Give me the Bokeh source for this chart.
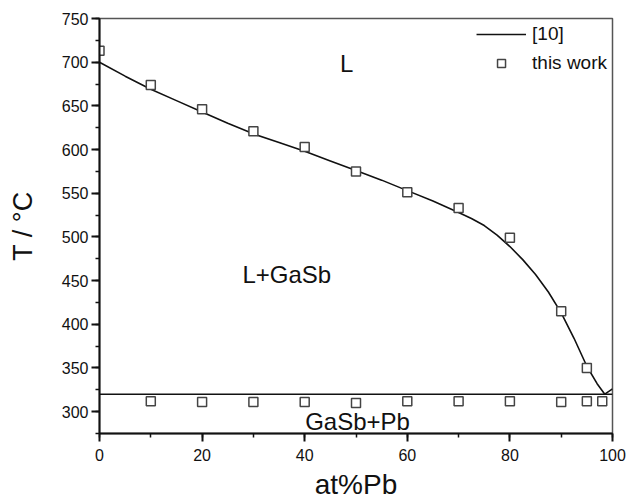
from bokeh.plotting import figure
from bokeh.models import Label, Legend, SingleIntervalTicker, Range1d
from bokeh.embed import file_html
from bokeh.resources import INLINE

# Calculated liquidus from [10] (at%Pb, T / degC)
liq_x = [0, 5, 10, 15, 20, 25, 30, 35, 40, 45, 50, 55, 60, 65, 70, 72.5, 75, 77.5, 80,
         82.5, 85, 87.5, 90, 92.5, 95, 97, 98.5, 100]
liq_t = [700, 684, 669, 656, 643, 630, 618, 608, 598, 587, 576, 565, 553, 541, 528, 521, 513, 502, 489,
         474, 457, 437, 413, 384, 352, 332, 320, 326]

# Invariant line from [10]
inv_x = [0, 100]
inv_t = [320, 320]

# This work: liquidus points
work_liq_x = [0, 10, 20, 30, 40, 50, 60, 70, 80, 90, 95]
work_liq_t = [713, 674, 646, 621, 603, 575, 551, 533, 499, 415, 350]

# This work: invariant points
work_inv_x = [10, 20, 30, 40, 50, 60, 70, 80, 90, 95, 98]
work_inv_t = [312, 311, 311, 311, 310, 312, 312, 312, 311, 312, 312]

FONT = "Liberation Sans"
INK = "#111111"

p = figure(width=626, height=504,
           x_range=Range1d(0, 100), y_range=Range1d(275, 750),
           output_backend="svg", toolbar_location=None,
           min_border_left=99, min_border_right=14,
           min_border_top=18, min_border_bottom=71)

p.grid.visible = False
p.background_fill_color = "white"
p.border_fill_color = "white"
p.outline_line_color = "#555555"
p.outline_line_width = 1.5

p.xaxis.ticker = SingleIntervalTicker(interval=20, num_minor_ticks=2)
p.yaxis.ticker = SingleIntervalTicker(interval=50, num_minor_ticks=2)

for ax in (p.xaxis, p.yaxis):
    ax.axis_line_color = INK
    ax.axis_line_width = 2
    ax.major_tick_line_color = INK
    ax.major_tick_line_width = 2
    ax.minor_tick_line_color = INK
    ax.minor_tick_line_width = 1.5
    ax.major_tick_in = 0
    ax.major_tick_out = 8
    ax.minor_tick_in = 0
    ax.minor_tick_out = 4
    ax.major_label_text_font = FONT
    ax.major_label_text_font_size = "16px"
    ax.major_label_text_color = INK
    ax.axis_label_text_font = FONT
    ax.axis_label_text_font_style = "normal"
    ax.axis_label_text_color = INK

p.xaxis.major_label_standoff = 7
p.yaxis.major_label_standoff = 3
p.xaxis.axis_label = "at%Pb"
p.xaxis.axis_label_text_font_size = "28px"
p.xaxis.axis_label_standoff = 5
p.yaxis.axis_label = "T / °C"
p.yaxis.axis_label_text_font_size = "27px"
p.yaxis.axis_label_standoff = 21

# lines from [10]
r_line = p.line(liq_x, liq_t, line_color=INK, line_width=1.6)
p.line(inv_x, inv_t, line_color=INK, line_width=1.6)

# this work
r_pts = p.scatter(work_liq_x, work_liq_t, marker="square", size=9,
                  line_color="#444444", line_width=1.5, fill_color="white")
p.scatter(work_inv_x, work_inv_t, marker="square", size=9,
          line_color="#444444", line_width=1.5, fill_color="white")

legend = Legend(items=[("[10]", [r_line]), ("this work", [r_pts])],
                location="top_right")
legend.border_line_color = None
legend.background_fill_alpha = 0
legend.glyph_width = 50
legend.glyph_height = 20
legend.label_height = 20
legend.label_standoff = 6
legend.spacing = 7
legend.padding = 5
legend.margin = 5
legend.label_text_font = FONT
legend.label_text_font_size = "19px"
legend.label_text_color = INK
p.add_layout(legend)

# phase region labels
for txt, lx, ly in [("L", 48.2, 698), ("L+GaSb", 36.5, 457), ("GaSb+Pb", 50.3, 289)]:
    p.add_layout(Label(x=lx, y=ly, text=txt, text_font=FONT, text_font_size="24px",
                       text_align="center", text_baseline="middle", text_color=INK))

open("out.html", "w").write(file_html(p, INLINE))
